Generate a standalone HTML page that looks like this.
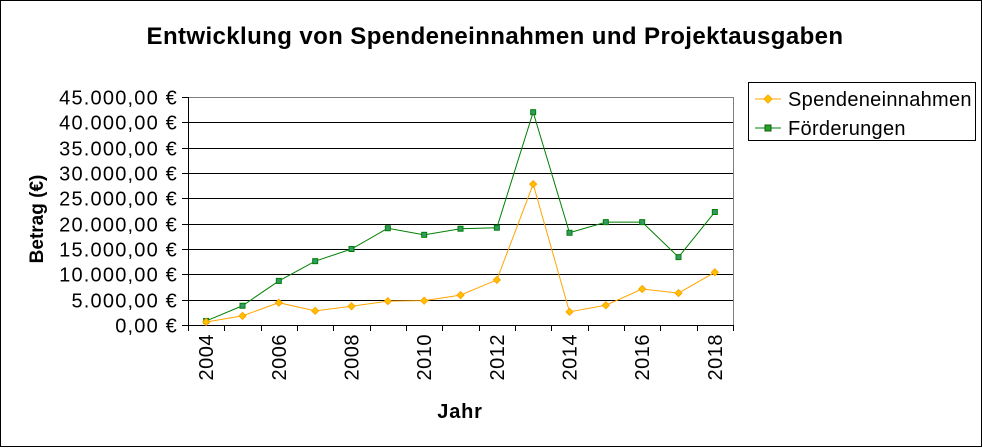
<!DOCTYPE html>
<html><head><meta charset="utf-8"><style>
html,body{margin:0;padding:0;background:#fff;}
svg{display:block;font-family:"Liberation Sans",sans-serif;}
</style></head><body>
<svg id="chart" width="983" height="448">
<rect x="0.5" y="0.5" width="981" height="446" fill="#fff" stroke="#000"/>
<text x="495" y="44" font-size="24" font-weight="bold" text-anchor="middle" letter-spacing="0.4">Entwicklung von Spendeneinnahmen und Projektausgaben</text>
<g id="grid"></g>
<g id="axes"></g>
<g id="series"></g>
<text transform="translate(43,219) rotate(-90)" font-size="19" font-weight="bold" text-anchor="middle">Betrag (€)</text>
<text x="460" y="418" font-size="20" font-weight="bold" text-anchor="middle" letter-spacing="0.8">Jahr</text>
<g>
<rect x="748.5" y="82.5" width="227" height="58" fill="#fff" stroke="#000"/>
<g>
<line x1="755" y1="99" x2="781" y2="99" stroke="#FFA500" stroke-width="1"/>
<polygon points="768,95 772,99 768,103 764,99" fill="#FFC000" stroke="#FFA500"/>
<text x="788" y="106" font-size="20" letter-spacing="0.3">Spendeneinnahmen</text></g>
<g>
<line x1="755" y1="128" x2="781" y2="128" stroke="#008000" stroke-width="1"/>
<rect x="765" y="125" width="6" height="6" fill="#339933" stroke="#006600"/>
<text x="788" y="135" font-size="20" letter-spacing="0.3">Förderungen</text></g>
</g>
</svg>
<script>
const years=[2004,2005,2006,2007,2008,2009,2010,2011,2012,2013,2014,2015,2016,2017,2018];
const spenden=[600,1800,4400,2800,3700,4700,4800,5900,8900,27800,2600,3900,7100,6300,10400];
const foerderungen=[800,3800,8700,12600,15000,19100,17800,19000,19200,42000,18200,20300,20300,13400,22300];
const yTicks=[0,5000,10000,15000,20000,25000,30000,35000,40000,45000];
const yTickLabels=["0,00 €","5.000,00 €","10.000,00 €","15.000,00 €","20.000,00 €","25.000,00 €","30.000,00 €","35.000,00 €","40.000,00 €","45.000,00 €"];

const NS="http://www.w3.org/2000/svg";
const X0=188,X1=733,Y0=325,Y1=97,YMAX=45000;
const step=(X1-X0)/years.length;
const xs=i=>X0+step*(i+0.5);
const ys=v=>Y0-(v/YMAX)*(Y0-Y1);
function mk(tag,attrs,parent){const e=document.createElementNS(NS,tag);for(const k in attrs)e.setAttribute(k,attrs[k]);parent.appendChild(e);return e;}
const grid=document.getElementById('grid'),axes=document.getElementById('axes'),series=document.getElementById('series');
mk('line',{x1:X0,x2:X1+0.5,y1:Y1+0.5,y2:Y1+0.5,stroke:'#808080'},grid);
mk('line',{x1:X1+0.5,x2:X1+0.5,y1:Y1,y2:Y0,stroke:'#808080'},grid);
yTicks.forEach((t,i)=>{
  const y=Math.round(ys(t))+0.5;
  if(t>0&&t<YMAX){const g=mk('line',{x1:X0,x2:X1,y1:y,y2:y,stroke:'#000'},grid);
    
    }
  const tk=mk('line',{x1:X0-6,x2:X0,y1:y,y2:y,stroke:'#000'},axes);
  
  
  const lb=mk('text',{x:X0-10,y:y+7,'font-size':20,'text-anchor':'end','letter-spacing':1.2},axes);
  lb.textContent=yTickLabels[i];
  
  
});
mk('line',{x1:X0+0.5,x2:X0+0.5,y1:Y1,y2:Y0+6,stroke:'#000'},axes);
mk('line',{x1:X0,x2:X1+1,y1:Y0+0.5,y2:Y0+0.5,stroke:'#000'},axes);
for(let i=0;i<=years.length;i++){const x=Math.round(X0+step*i)+0.5;mk('line',{x1:x,x2:x,y1:Y0,y2:Y0+6,stroke:'#000'},axes);}
years.forEach((yr,i)=>{
  if(yr%2!==0)return;
  const x=xs(i);
  const t=mk('text',{transform:`translate(${x+7},${Y0+9}) rotate(-90)`,'font-size':20,'text-anchor':'end','letter-spacing':0.5},axes);
  t.textContent=yr;
  
  
});
function draw(vals,color,fill,name,marker){
  const pl=mk('polyline',{points:vals.map((v,i)=>xs(i)+','+ys(v)).join(' '),fill:'none',stroke:color,'stroke-width':1},series);
  
  
  vals.forEach((v,i)=>{
    const x=xs(i),y=ys(v);let m;
    if(marker==='d')m=mk('polygon',{points:`${x},${y-3.5} ${x+3.5},${y} ${x},${y+3.5} ${x-3.5},${y}`,fill:fill,stroke:color},series);
    else m=mk('rect',{x:x-2.5,y:y-2.5,width:5,height:5,fill:fill,stroke:color},series);
    
    
  });
}
draw(foerderungen,'#008000','#339966','foerderungen','s');
draw(spenden,'#FFA500','#FFC000','spenden','d');
</script>
</body></html>
